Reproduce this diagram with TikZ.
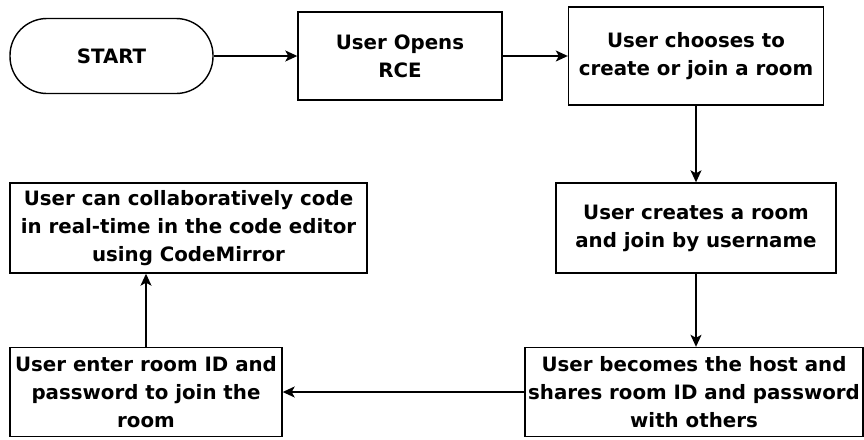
\documentclass[tikz,border=0pt]{standalone}
\usepackage{fontspec}
\setmainfont{DejaVu Sans}
\usetikzlibrary{positioning, arrows.meta}

\tikzset{
  box/.style={draw, line width=1.4pt, rectangle, align=center, inner sep=0pt,
    font=\fontsize{19.8}{28}\selectfont\bfseries},
  flow/.style={line width=1.4pt, -{Stealth[length=12pt,width=11pt,inset=3pt]}}
}

\begin{document}
\begin{tikzpicture}[x=1pt, y=-1pt]

		% Frame
		\useasboundingbox (0,0) rectangle (864,439);

		% Steps
		\node[box, rounded corners=37pt, minimum width=203pt, minimum height=75pt] (start) at (111.5,56) {START};
		\node[box, minimum width=204pt, minimum height=88pt] (opens) at (400,56) {User Opens\\RCE};
		\node[box, minimum width=255pt, minimum height=98pt] (choose) at (696,56) {User chooses to\\create or join a room};
		\node[box, minimum width=280pt, minimum height=90pt] (create) at (696,228) {User creates a room\\and join by username};
		\node[box, minimum width=338pt, minimum height=89pt] (host) at (694,392) {User becomes the host and\\shares room ID and password\\with others};
		\node[box, minimum width=272pt, minimum height=89pt] (enter) at (146,392) {User enter room ID and\\password to join the\\room};
		\node[box, minimum width=357pt, minimum height=90pt] (collab) at (188.5,228) {User can collaboratively code\\in real-time in the code editor\\using CodeMirror};

		% Connectors
		\draw[flow] (start) -- (opens);
		\draw[flow] (opens) -- (choose);
		\draw[flow] (choose.south) -- (choose.south |- create.north);
		\draw[flow] (create.south) -- (create.south |- host.north);
		\draw[flow] (host.west) -- (enter.east);
		\draw[flow] (enter.north) -- (enter.north |- collab.south);

	\end{tikzpicture}
\end{document}
